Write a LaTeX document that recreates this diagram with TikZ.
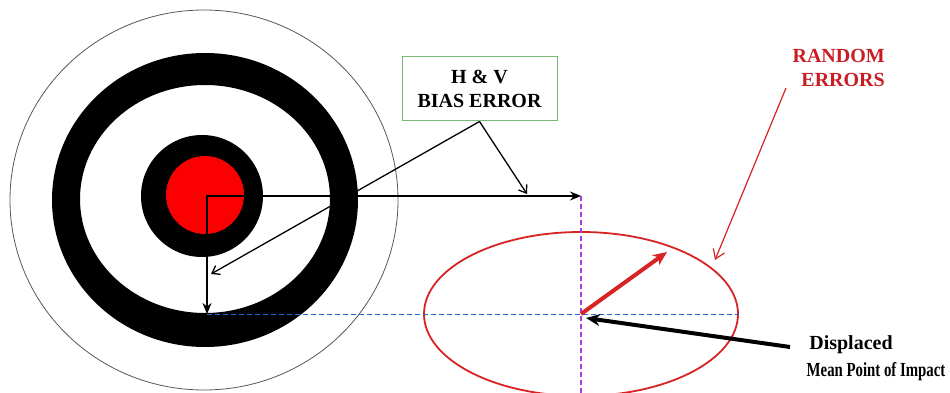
\documentclass[tikz,border=0pt]{standalone}
\usepackage{fontspec}
\setmainfont{Liberation Serif}
\newfontfamily\condfont[FakeStretch=0.74]{Liberation Serif}
\usetikzlibrary{arrows.meta,shapes.geometric}
\definecolor{tred}{RGB}{250,0,0}
\definecolor{ered}{RGB}{215,35,35}
\definecolor{lbl}{RGB}{200,30,35}
\definecolor{bgreen}{RGB}{120,185,120}
\definecolor{dblue}{RGB}{40,100,210}
\definecolor{dpurple}{RGB}{165,60,230}
\begin{document}
\begin{tikzpicture}[x=1pt,y=-1pt,
  mainarrow/.style={line width=2.6pt,line cap=rect,-{Stealth[length=11pt,width=9pt]}},
  leader/.style={line width=1.3pt,-{Straight Barb[length=7pt,width=10pt]}},
  lbltext/.style={font=\fontsize{20}{24}\selectfont\bfseries,align=center,inner sep=0pt},
  dashline/.style={line width=1.4pt,dash pattern=on 5pt off 3pt},
]
\useasboundingbox (0,0) rectangle (950,393);
\fill[white] (0,0) rectangle (950,393);
% target
\draw[gray!70!black, line width=0.8pt] (204,200) ellipse [x radius=194, y radius=190];
\fill[black,even odd rule] (205,200) ellipse [x radius=153,y radius=147] (205,199) ellipse [x radius=125, y radius=114];
\fill[black] (202,196) circle (61);
\fill[tred] (205,195) circle (39);
% coordinates
\coordinate (corner) at (207,196);
\coordinate (hend) at (581,196);
\coordinate (vend) at (207,314);
\coordinate (pbot) at (581,393);
\coordinate (rtip) at (667,252);
\coordinate (mtail) at (790,347);
\coordinate (mtip) at (586,318);
\coordinate (htip) at (527,194);
\coordinate (vtip) at (211,274);
\coordinate (rtail) at (786,88);
\coordinate (etip) at (715,260);
% ellipse
\node[draw=ered, line width=1.8pt, ellipse, minimum width=314pt, minimum height=164pt, inner sep=0pt] (ell) at (581,314) {};
% dashed guides
\draw[dpurple, dashline] (hend) -- (pbot);
\draw[dblue, dashline, line width=1pt] (vend) -- (ell.east);
% bias arrows
\draw[mainarrow] (corner) -- (hend);
\draw[mainarrow] (corner) -- (vend);
% random arrow
\draw[ered, line width=4pt, -{Stealth[length=14pt,width=12pt]}] (ell.center) -- (rtip);
% MPI arrow
\draw[line width=4pt, -{Stealth[length=14pt,width=12pt]}] (mtail) -- (mtip);
% labels
\node[draw=bgreen, line width=1pt, minimum width=155pt, minimum height=64pt, lbltext] (bias) at (479.5,89) {H \& V\\BIAS ERROR};
\draw[leader] (bias.south) -- (htip);
\draw[leader] (bias.south) -- (vtip);
\node[lbltext, text=lbl, align=right, anchor=east] (rand) at (885,68) {RANDOM\\ERRORS};
\draw[ered, line width=1.2pt, -{Straight Barb[length=9pt,width=12pt]}] (rtail) -- (etip);
\node[lbltext] (disp) at (851,345) {Displaced};
\node[font=\condfont\fontsize{20}{24}\selectfont\bfseries, inner sep=0pt] (mpi) at (876,372) {Mean Point of Impact};
\end{tikzpicture}
\end{document}
